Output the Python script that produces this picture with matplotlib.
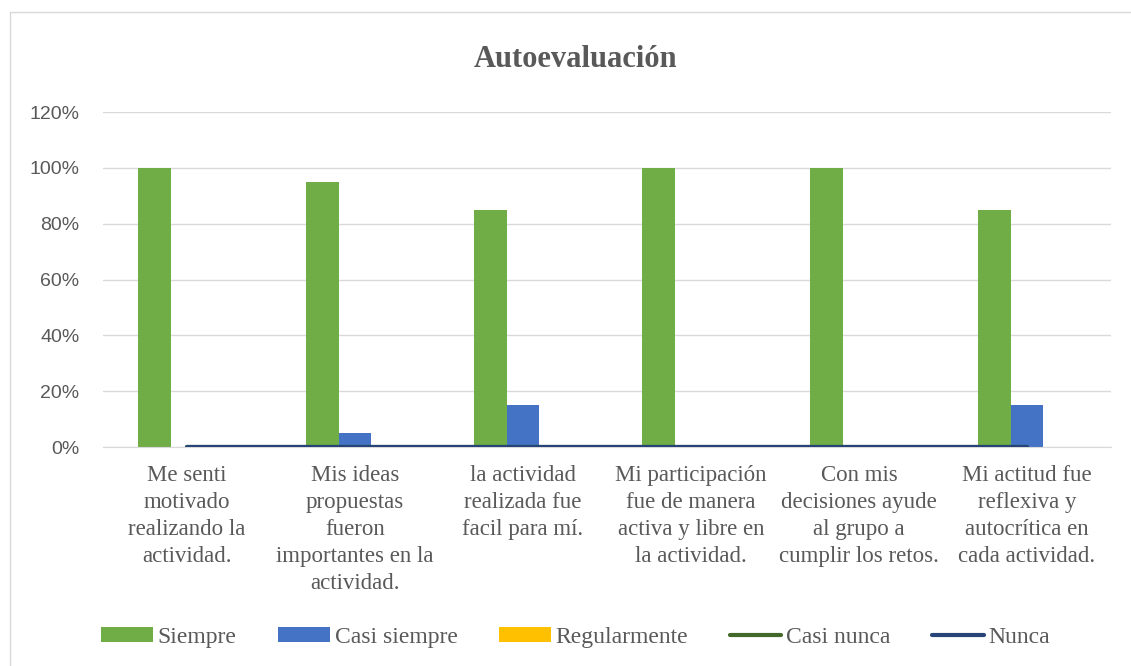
import matplotlib.pyplot as plt
from matplotlib.patches import Rectangle
from matplotlib.ticker import PercentFormatter
import numpy as np

# chart data
categories = [
    "Me senti\nmotivado\nrealizando la\nactividad.",
    "Mis ideas\npropuestas\nfueron\nimportantes en la\nactividad.",
    "la actividad\nrealizada fue\nfacil para mí.",
    "Mi participación\nfue de manera\nactiva y libre en\nla actividad.",
    "Con mis\ndecisiones ayude\nal grupo a\ncumplir los retos.",
    "Mi actitud fue\nreflexiva y\nautocrítica en\ncada actividad.",
]
siempre = [1.00, 0.95, 0.85, 1.00, 1.00, 0.85]
casi_siempre = [0.00, 0.05, 0.15, 0.00, 0.00, 0.15]
regularmente = [0, 0, 0, 0, 0, 0]
casi_nunca = [0, 0, 0, 0, 0, 0]
nunca = [0, 0, 0, 0, 0, 0]

serif = ["Liberation Serif", "DejaVu Serif"]
sans = ["Liberation Sans", "DejaVu Sans"]
gray = "#595959"

fig = plt.figure(figsize=(11.31, 6.66), dpi=100)
ax = fig.add_axes([0.0911, 0.3288, 0.8912, 0.503])

# outer chart border
fig.patches.append(Rectangle((0.009, -0.01), 0.995, 0.992, transform=fig.transFigure,
                             fill=False, edgecolor="#D9D9D9", linewidth=1))

x = np.arange(len(categories))
w = 0.195
b1 = ax.bar(x - w, siempre, w, color="#70AD47", label="Siempre", zorder=2)
b2 = ax.bar(x, casi_siempre, w, color="#4472C4", label="Casi siempre", zorder=2)
b3 = ax.bar(x + w, regularmente, w, color="#FFC000", label="Regularmente", zorder=2)
l1, = ax.plot(x, casi_nunca, color="#43682B", lw=3, solid_capstyle="round",
              label="Casi nunca", zorder=3)
l2, = ax.plot(x, nunca, color="#264478", lw=3, solid_capstyle="round",
              label="Nunca", zorder=4)

ax.set_xlim(-0.5, len(categories) - 0.5)
ax.set_ylim(0, 1.2)
ax.set_yticks(np.arange(0, 1.21, 0.2))
ax.yaxis.set_major_formatter(PercentFormatter(1.0, decimals=0))
ax.grid(axis="y", color="#D9D9D9", lw=1, zorder=0)
ax.set_axisbelow(True)
for s in ["top", "right", "left"]:
    ax.spines[s].set_visible(False)
ax.spines["bottom"].set_color("#D9D9D9")

ax.set_xticks(x)
ax.set_xticklabels(categories, fontsize=16.5, family=serif, color=gray,
                   linespacing=1.38, va="top")
ax.tick_params(axis="x", length=0, pad=13)
ax.tick_params(axis="y", length=0, pad=17, labelsize=14, labelcolor=gray)
for t in ax.get_yticklabels():
    t.set_family(sans)

fig.text(0.509, 0.91, "Autoevaluación", ha="center", va="center", fontsize=22,
         fontweight="bold", family=serif, color=gray)

fig.legend([b1, b2, b3, l1, l2],
           ["Siempre", "Casi siempre", "Regularmente", "Casi nunca", "Nunca"],
           loc="center", bbox_to_anchor=(0.509, 0.043), ncol=5, frameon=False,
           prop={"family": serif, "size": 17}, labelcolor=gray,
           handlelength=2.2, handleheight=0.55, handletextpad=0.2, columnspacing=1.75)

fig.savefig("out.png", dpi=100)
